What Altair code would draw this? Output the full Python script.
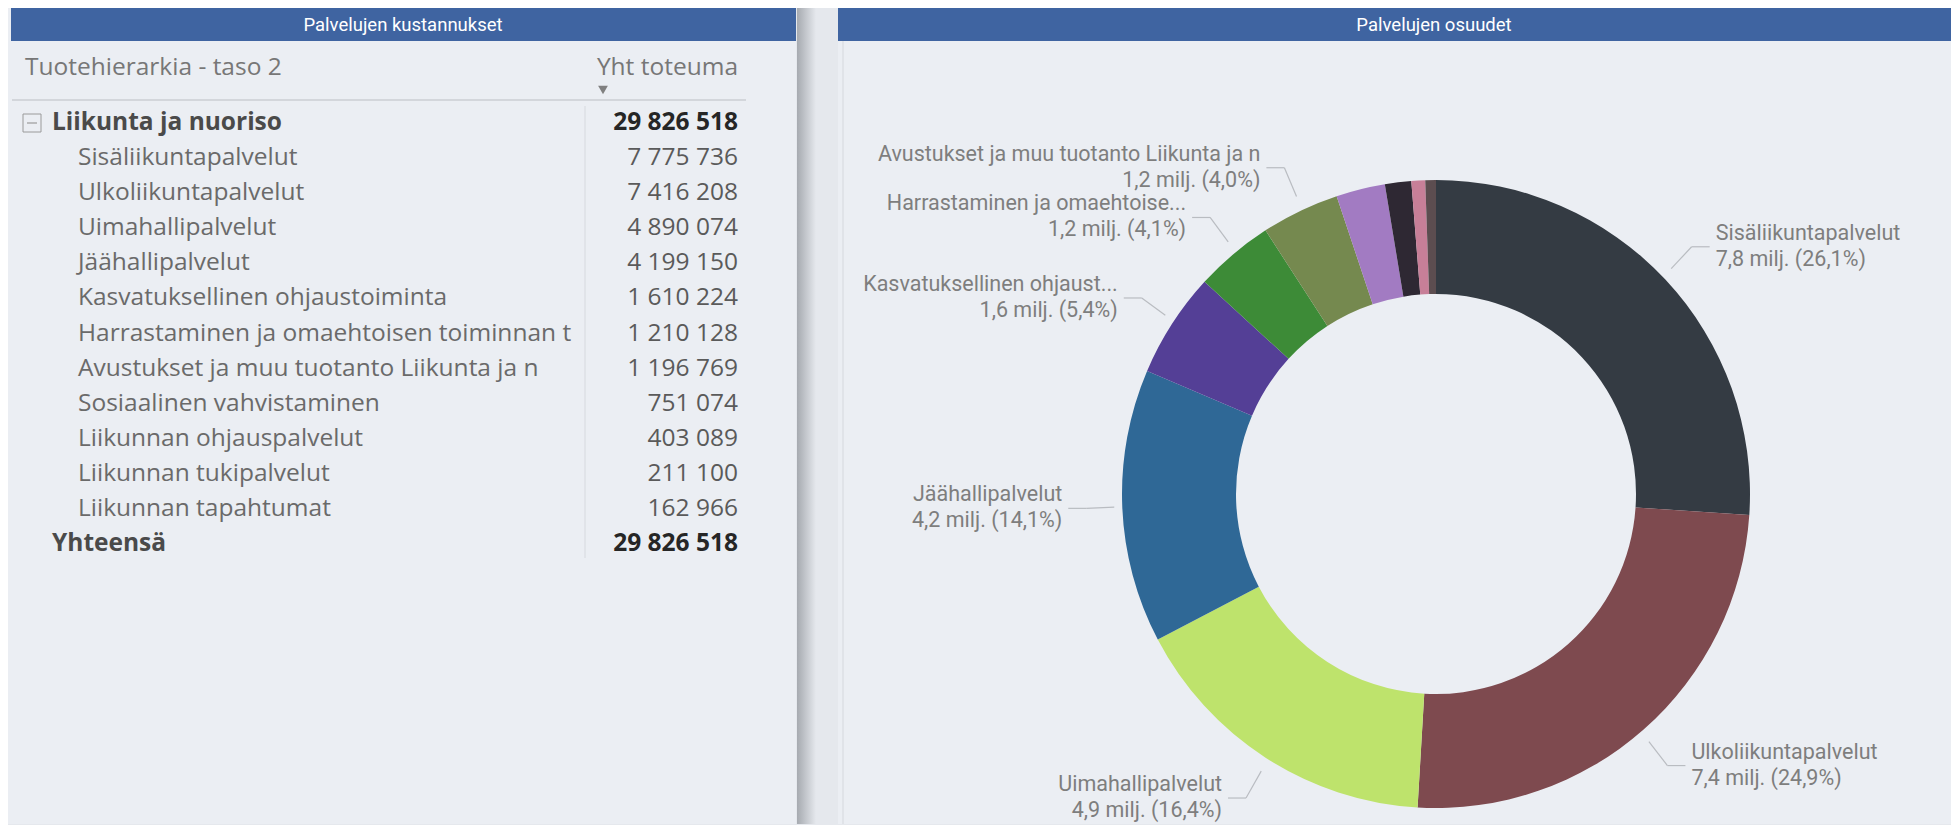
import altair as alt
import pandas as pd

# ---------------- data ----------------
categories = [
    "Sisäliikuntapalvelut",
    "Ulkoliikuntapalvelut",
    "Uimahallipalvelut",
    "Jäähallipalvelut",
    "Kasvatuksellinen ohjaustoiminta",
    "Harrastaminen ja omaehtoisen toiminnan t",
    "Avustukset ja muu tuotanto Liikunta ja n",
    "Sosiaalinen vahvistaminen",
    "Liikunnan ohjauspalvelut",
    "Liikunnan tukipalvelut",
    "Liikunnan tapahtumat",
]
values = [7775736, 7416208, 4890074, 4199150, 1610224, 1210128, 1196769,
          751074, 403089, 211100, 162966]
slice_colors = ["#343B43", "#7E4A4F", "#BEE36C", "#2F6896", "#543F96", "#3D8B37",
                "#75894F", "#A27BC2", "#2E2833", "#C77F98", "#5C4D50"]
donut_label_names = [
    "Sisäliikuntapalvelut",
    "Ulkoliikuntapalvelut",
    "Uimahallipalvelut",
    "Jäähallipalvelut",
    "Kasvatuksellinen ohjaust...",
    "Harrastaminen ja omaehtoise...",
    "Avustukset ja muu tuotanto Liikunta ja n",
    "", "", "", "",
]
parent_name = "Liikunta ja nuoriso"
total_name = "Yhteensä"
panel_titles = ["Palvelujen kustannukset", "Palvelujen osuudet"]
col_headers = ["Tuotehierarkia - taso 2", "Yht toteuma"]

total = sum(values)


def fmt_int(v):
    return f"{v:,}".replace(",", " ")


def fmt_milj(v):
    return f"{v / 1e6:.1f}".replace(".", ",") + " milj."


def fmt_pct(v):
    return f"{v / total * 100:.1f}".replace(".", ",") + "%"


# table rows
t_labels = [parent_name] + categories + [total_name]
t_vals = [fmt_int(total)] + [fmt_int(v) for v in values] + [fmt_int(total)]
t_kind = ["parent"] + ["child"] * len(categories) + ["total"]
table = pd.DataFrame({"label": t_labels, "val": t_vals, "kind": t_kind,
                      "idx": list(range(len(t_labels)))})

donut = pd.DataFrame({
    "name": categories,
    "value": values,
    "order": list(range(len(categories))),
    "lab": [(f"{n}\n{fmt_milj(v)} ({fmt_pct(v)})" if n else "")
            for n, v in zip(donut_label_names, values)],
})

# ---------------- styling constants ----------------
H = 816
WL = 830
WR = 1113
BG = "#E5E8ED"
PANEL = "#EBEEF3"
HEAD = "#3F64A1"
TFONT = "Open Sans"
DFONT = "Roboto"
HFONT = "Liberation Sans Narrow, Roboto"
TSIZE = 24.5

# ---------------- left panel ----------------
row_y = alt.Y("idx:Q", scale=alt.Scale(domain=[0, 12], range=[115, 536], nice=False, zero=False), axis=None)

one = pd.DataFrame({"k": [0]})
lbase = alt.Chart(one)

l_panel = lbase.mark_rect(color=PANEL).encode(
    x=alt.value(0), x2=alt.value(788), y=alt.value(0), y2=alt.value(H))
l_shadow = lbase.mark_rect(
    color=alt.LinearGradient(gradient="linear", x1=0, x2=1, y1=0, y2=0,
                             stops=[alt.GradientStop(color="#A6AAB0", offset=0),
                                    alt.GradientStop(color=BG, offset=1)])
).encode(x=alt.value(789), x2=alt.value(808), y=alt.value(0), y2=alt.value(H))
l_head = lbase.mark_rect(color=HEAD).encode(
    x=alt.value(3), x2=alt.value(788), y=alt.value(0), y2=alt.value(33))
l_title = lbase.mark_text(color="white", font=HFONT, fontSize=18.5, baseline="middle").encode(
    x=alt.value(395), y=alt.value(17), text=alt.value(panel_titles[0]))
l_h1 = lbase.mark_text(color="#777777", font=TFONT, fontSize=TSIZE, align="left", baseline="middle").encode(
    x=alt.value(17), y=alt.value(60), text=alt.value(col_headers[0]))
l_h2 = lbase.mark_text(color="#777777", font=TFONT, fontSize=TSIZE, align="right", baseline="middle").encode(
    x=alt.value(730), y=alt.value(60), text=alt.value(col_headers[1]))
l_tri = lbase.mark_point(shape="triangle-down", filled=True, color="#808080", size=95, opacity=1).encode(
    x=alt.value(595), y=alt.value(82))
l_sep = lbase.mark_rule(color="#CBCED3", strokeWidth=1.5).encode(
    x=alt.value(4), x2=alt.value(738), y=alt.value(92))
l_div = lbase.mark_rule(color="#D6D9DE", strokeWidth=1).encode(
    x=alt.value(577), y=alt.value(98), y2=alt.value(550))
l_box = lbase.mark_rect(fill=PANEL, stroke="#9A9A9A", strokeWidth=1).encode(
    x=alt.value(15), x2=alt.value(33), y=alt.value(106), y2=alt.value(124))
l_minus = lbase.mark_rule(color="#9A9A9A", strokeWidth=1.2).encode(
    x=alt.value(19), x2=alt.value(29), y=alt.value(115))

tbase = alt.Chart(table)
t_child = tbase.transform_filter("datum.kind == 'child'").mark_text(
    font=TFONT, fontSize=TSIZE, color="#6A6A6A", align="left", baseline="middle"
).encode(x=alt.value(70), y=row_y, text="label:N")
t_bold = tbase.transform_filter("datum.kind != 'child'").mark_text(
    font=TFONT, fontSize=TSIZE, fontWeight="bold", color="#4A4A4A", align="left", baseline="middle"
).encode(x=alt.value(44), y=row_y, text="label:N")
v_child = tbase.transform_filter("datum.kind == 'child'").mark_text(
    font=TFONT, fontSize=TSIZE, color="#5A5A5A", align="right", baseline="middle"
).encode(x=alt.value(730), y=row_y, text="val:N")
v_bold = tbase.transform_filter("datum.kind != 'child'").mark_text(
    font=TFONT, fontSize=TSIZE, fontWeight="bold", color="#262626", align="right", baseline="middle"
).encode(x=alt.value(730), y=row_y, text="val:N")

left = alt.layer(l_panel, l_shadow, l_head, l_title, l_h1, l_h2, l_tri, l_sep, l_div,
                 l_box, l_minus, t_child, t_bold, v_child, v_bold).properties(width=WL, height=H)

# ---------------- right panel ----------------
CX, CY = 598, 486
R_OUT, R_IN = 314, 200
R1X, R1Y = 322, 330
R2X, R2Y = 350, 362

rbase = alt.Chart(one)
r_panel = rbase.mark_rect(color=PANEL).encode(
    x=alt.value(0), x2=alt.value(WR), y=alt.value(0), y2=alt.value(H))
r_edge = rbase.mark_rule(color="#E0E3E8", strokeWidth=2).encode(
    x=alt.value(5), y=alt.value(33), y2=alt.value(H))
r_head = rbase.mark_rect(color=HEAD).encode(
    x=alt.value(0), x2=alt.value(WR), y=alt.value(0), y2=alt.value(33))
r_title = rbase.mark_text(color="white", font=HFONT, fontSize=18.5, baseline="middle").encode(
    x=alt.value(596), y=alt.value(17), text=alt.value(panel_titles[1]))

arc = alt.Chart(donut).mark_arc(innerRadius=R_IN, outerRadius=R_OUT).encode(
    theta=alt.Theta("value:Q", stack=True),
    color=alt.Color("name:N", scale=alt.Scale(domain=categories, range=slice_colors), legend=None),
    order=alt.Order("order:Q"),
    x=alt.value(CX), y=alt.value(CY),
)

xs = alt.Scale(domain=[0, WR], range=[0, WR], nice=False, zero=False)
ys = alt.Scale(domain=[0, H], range=[0, H], nice=False, zero=False)

geo = alt.Chart(donut).transform_window(
    cum="sum(value)", sort=[alt.SortField("order")], frame=[None, 0]
).transform_joinaggregate(tot="sum(value)").transform_calculate(
    a="(datum.cum - datum.value / 2) / datum.tot * 2 * PI"
).transform_calculate(
    side="datum.a < PI ? 1 : -1",
    px1=f"{CX} + {R1X} * sin(datum.a)",
    py1=f"{CY} - {R1Y} * cos(datum.a)",
    px2=f"{CX} + {R2X} * sin(datum.a)",
    py2=f"{CY} - {R2Y} * cos(datum.a)",
).transform_calculate(
    px3="datum.px2 + datum.side * 18",
    tx="datum.px2 + datum.side * 24",
).transform_filter("datum.lab != ''")

lead1 = geo.mark_rule(color="#B9BCC1", strokeWidth=1.2).encode(
    x=alt.X("px1:Q", scale=xs, axis=None), y=alt.Y("py1:Q", scale=ys, axis=None),
    x2="px2:Q", y2="py2:Q")
lead2 = geo.mark_rule(color="#B9BCC1", strokeWidth=1.2).encode(
    x=alt.X("px2:Q", scale=xs, axis=None), y=alt.Y("py2:Q", scale=ys, axis=None),
    x2="px3:Q", y2="py2:Q")
lab_r = geo.transform_filter("datum.side > 0").mark_text(
    font=DFONT, fontSize=21.5, color="#7E7E7E", align="left", baseline="middle",
    lineBreak="\n", lineHeight=26, dy=-13
).encode(x=alt.X("tx:Q", scale=xs, axis=None), y=alt.Y("py2:Q", scale=ys, axis=None), text="lab:N")
lab_l = geo.transform_filter("datum.side < 0").mark_text(
    font=DFONT, fontSize=21.5, color="#7E7E7E", align="right", baseline="middle",
    lineBreak="\n", lineHeight=26, dy=-13
).encode(x=alt.X("tx:Q", scale=xs, axis=None), y=alt.Y("py2:Q", scale=ys, axis=None), text="lab:N")

right = alt.layer(r_panel, r_edge, r_head, r_title, arc, lead1, lead2, lab_r, lab_l).properties(width=WR, height=H)

chart = alt.hconcat(left, right, spacing=0).properties(
    padding=0, background=BG
).configure_view(stroke=None)

chart.save("out.html", embed_options={"renderer": "svg", "actions": False})
